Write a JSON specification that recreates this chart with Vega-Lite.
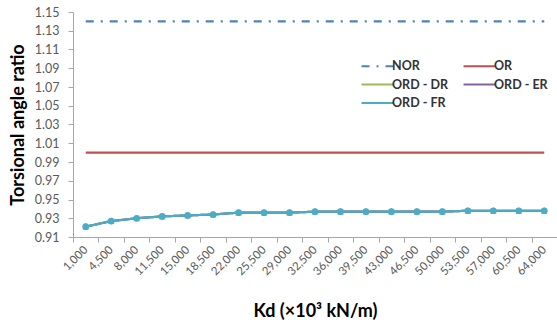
{
  "$schema": "https://vega.github.io/schema/vega-lite/v6.json",
  "autosize": {"type": "none"},
  "width": 484,
  "height": 225,
  "padding": {"left": 73, "top": 12, "right": 0, "bottom": 92},
  "background": "white",
  "config": {
    "view": {"stroke": null},
    "font": "Lato",
    "axis": {"domainColor": "#A6A6A6", "tickColor": "#A6A6A6", "grid": false, "labelFont": "Lato", "labelColor": "#595959", "titleFont": "Lato", "titleColor": "#000000", "titleFontWeight": "bold", "titleFontSize": 18}
  },
  "data": {
    "values": [
      {"kd": "1,000", "series": "NOR", "value": 1.14},
      {"kd": "4,500", "series": "NOR", "value": 1.14},
      {"kd": "8,000", "series": "NOR", "value": 1.14},
      {"kd": "11,500", "series": "NOR", "value": 1.14},
      {"kd": "15,000", "series": "NOR", "value": 1.14},
      {"kd": "18,500", "series": "NOR", "value": 1.14},
      {"kd": "22,000", "series": "NOR", "value": 1.14},
      {"kd": "25,500", "series": "NOR", "value": 1.14},
      {"kd": "29,000", "series": "NOR", "value": 1.14},
      {"kd": "32,500", "series": "NOR", "value": 1.14},
      {"kd": "36,000", "series": "NOR", "value": 1.14},
      {"kd": "39,500", "series": "NOR", "value": 1.14},
      {"kd": "43,000", "series": "NOR", "value": 1.14},
      {"kd": "46,500", "series": "NOR", "value": 1.14},
      {"kd": "50,000", "series": "NOR", "value": 1.14},
      {"kd": "53,500", "series": "NOR", "value": 1.14},
      {"kd": "57,000", "series": "NOR", "value": 1.14},
      {"kd": "60,500", "series": "NOR", "value": 1.14},
      {"kd": "64,000", "series": "NOR", "value": 1.14},
      {"kd": "1,000", "series": "OR", "value": 1.0},
      {"kd": "4,500", "series": "OR", "value": 1.0},
      {"kd": "8,000", "series": "OR", "value": 1.0},
      {"kd": "11,500", "series": "OR", "value": 1.0},
      {"kd": "15,000", "series": "OR", "value": 1.0},
      {"kd": "18,500", "series": "OR", "value": 1.0},
      {"kd": "22,000", "series": "OR", "value": 1.0},
      {"kd": "25,500", "series": "OR", "value": 1.0},
      {"kd": "29,000", "series": "OR", "value": 1.0},
      {"kd": "32,500", "series": "OR", "value": 1.0},
      {"kd": "36,000", "series": "OR", "value": 1.0},
      {"kd": "39,500", "series": "OR", "value": 1.0},
      {"kd": "43,000", "series": "OR", "value": 1.0},
      {"kd": "46,500", "series": "OR", "value": 1.0},
      {"kd": "50,000", "series": "OR", "value": 1.0},
      {"kd": "53,500", "series": "OR", "value": 1.0},
      {"kd": "57,000", "series": "OR", "value": 1.0},
      {"kd": "60,500", "series": "OR", "value": 1.0},
      {"kd": "64,000", "series": "OR", "value": 1.0},
      {"kd": "1,000", "series": "ORD - DR", "value": 0.921},
      {"kd": "4,500", "series": "ORD - DR", "value": 0.927},
      {"kd": "8,000", "series": "ORD - DR", "value": 0.930},
      {"kd": "11,500", "series": "ORD - DR", "value": 0.932},
      {"kd": "15,000", "series": "ORD - DR", "value": 0.933},
      {"kd": "18,500", "series": "ORD - DR", "value": 0.934},
      {"kd": "22,000", "series": "ORD - DR", "value": 0.936},
      {"kd": "25,500", "series": "ORD - DR", "value": 0.936},
      {"kd": "29,000", "series": "ORD - DR", "value": 0.936},
      {"kd": "32,500", "series": "ORD - DR", "value": 0.937},
      {"kd": "36,000", "series": "ORD - DR", "value": 0.937},
      {"kd": "39,500", "series": "ORD - DR", "value": 0.937},
      {"kd": "43,000", "series": "ORD - DR", "value": 0.937},
      {"kd": "46,500", "series": "ORD - DR", "value": 0.937},
      {"kd": "50,000", "series": "ORD - DR", "value": 0.937},
      {"kd": "53,500", "series": "ORD - DR", "value": 0.938},
      {"kd": "57,000", "series": "ORD - DR", "value": 0.938},
      {"kd": "60,500", "series": "ORD - DR", "value": 0.938},
      {"kd": "64,000", "series": "ORD - DR", "value": 0.938},
      {"kd": "1,000", "series": "ORD - ER", "value": 0.921},
      {"kd": "4,500", "series": "ORD - ER", "value": 0.927},
      {"kd": "8,000", "series": "ORD - ER", "value": 0.930},
      {"kd": "11,500", "series": "ORD - ER", "value": 0.932},
      {"kd": "15,000", "series": "ORD - ER", "value": 0.933},
      {"kd": "18,500", "series": "ORD - ER", "value": 0.934},
      {"kd": "22,000", "series": "ORD - ER", "value": 0.936},
      {"kd": "25,500", "series": "ORD - ER", "value": 0.936},
      {"kd": "29,000", "series": "ORD - ER", "value": 0.936},
      {"kd": "32,500", "series": "ORD - ER", "value": 0.937},
      {"kd": "36,000", "series": "ORD - ER", "value": 0.937},
      {"kd": "39,500", "series": "ORD - ER", "value": 0.937},
      {"kd": "43,000", "series": "ORD - ER", "value": 0.937},
      {"kd": "46,500", "series": "ORD - ER", "value": 0.937},
      {"kd": "50,000", "series": "ORD - ER", "value": 0.937},
      {"kd": "53,500", "series": "ORD - ER", "value": 0.938},
      {"kd": "57,000", "series": "ORD - ER", "value": 0.938},
      {"kd": "60,500", "series": "ORD - ER", "value": 0.938},
      {"kd": "64,000", "series": "ORD - ER", "value": 0.938},
      {"kd": "1,000", "series": "ORD - FR", "value": 0.921},
      {"kd": "4,500", "series": "ORD - FR", "value": 0.927},
      {"kd": "8,000", "series": "ORD - FR", "value": 0.930},
      {"kd": "11,500", "series": "ORD - FR", "value": 0.932},
      {"kd": "15,000", "series": "ORD - FR", "value": 0.933},
      {"kd": "18,500", "series": "ORD - FR", "value": 0.934},
      {"kd": "22,000", "series": "ORD - FR", "value": 0.936},
      {"kd": "25,500", "series": "ORD - FR", "value": 0.936},
      {"kd": "29,000", "series": "ORD - FR", "value": 0.936},
      {"kd": "32,500", "series": "ORD - FR", "value": 0.937},
      {"kd": "36,000", "series": "ORD - FR", "value": 0.937},
      {"kd": "39,500", "series": "ORD - FR", "value": 0.937},
      {"kd": "43,000", "series": "ORD - FR", "value": 0.937},
      {"kd": "46,500", "series": "ORD - FR", "value": 0.937},
      {"kd": "50,000", "series": "ORD - FR", "value": 0.937},
      {"kd": "53,500", "series": "ORD - FR", "value": 0.938},
      {"kd": "57,000", "series": "ORD - FR", "value": 0.938},
      {"kd": "60,500", "series": "ORD - FR", "value": 0.938},
      {"kd": "64,000", "series": "ORD - FR", "value": 0.938}
    ]
  },
  "encoding": {
    "x": {
      "field": "kd", "type": "ordinal", "sort": null,
      "scale": {"type": "point", "padding": 0.5},
      "axis": {
        "title": "Kd (×10³ kN/m)",
        "labelAngle": 315, "labelAlign": "right", "labelBaseline": "middle",
        "labelFontSize": 11.5, "labelPadding": 6,
        "tickSize": 5, "tickOffset": -12.74, "labelOffset": 12.74,
        "titleY": 65, "titleBaseline": "top"
      }
    },
    "y": {
      "field": "value", "type": "quantitative",
      "scale": {"domain": [0.91, 1.15], "nice": false, "zero": false},
      "axis": {
        "title": "Torsional angle ratio",
        "values": [0.91, 0.93, 0.95, 0.97, 0.99, 1.01, 1.03, 1.05, 1.07, 1.09, 1.11, 1.13, 1.15],
        "format": ".2f", "labelFontSize": 12.5, "labelPadding": 9, "tickSize": 5, "titlePadding": 7
      }
    },
    "color": {
      "field": "series", "type": "nominal",
      "title": null,
      "scale": {
        "domain": ["NOR", "OR", "ORD - DR", "ORD - ER", "ORD - FR"],
        "range": ["#4F81BD", "#C0504D", "#9BBB59", "#8064A2", "#4BACC6"]
      },
      "legend": {
        "title": null, "orient": "none", "legendX": 295.5, "legendY": 45,
        "direction": "horizontal",
        "columns": 2, "columnPadding": 10, "rowPadding": 2.5,
        "symbolType": "M-2.13,0H2.13", "symbolSize": 225, "symbolStrokeWidth": 2.2,
        "labelFont": "Lato", "labelFontSize": 12.5, "labelFontWeight": "bold", "labelColor": "#333333",
        "labelOffset": 5.5
      }
    }
  },
  "layer": [
    {
      "mark": {"type": "line", "strokeWidth": 2.2, "strokeCap": "butt"},
      "encoding": {
        "strokeDash": {
          "field": "series", "type": "nominal",
          "title": null,
          "scale": {
            "domain": ["NOR", "OR", "ORD - DR", "ORD - ER", "ORD - FR"],
            "range": [[8, 7, 2, 7], [1, 0], [1, 0], [1, 0], [1, 0]]
          }
        }
      }
    },
    {
      "transform": [{"filter": "indexof(datum.series, 'ORD') === 0"}],
      "mark": {"type": "point", "filled": true, "opacity": 1, "size": 45},
      "encoding": {
        "shape": {
          "field": "series", "type": "nominal",
          "scale": {
            "domain": ["ORD - DR", "ORD - ER", "ORD - FR"],
            "range": ["triangle-up", "diamond", "circle"]
          },
          "legend": null
        }
      }
    }
  ]
}
